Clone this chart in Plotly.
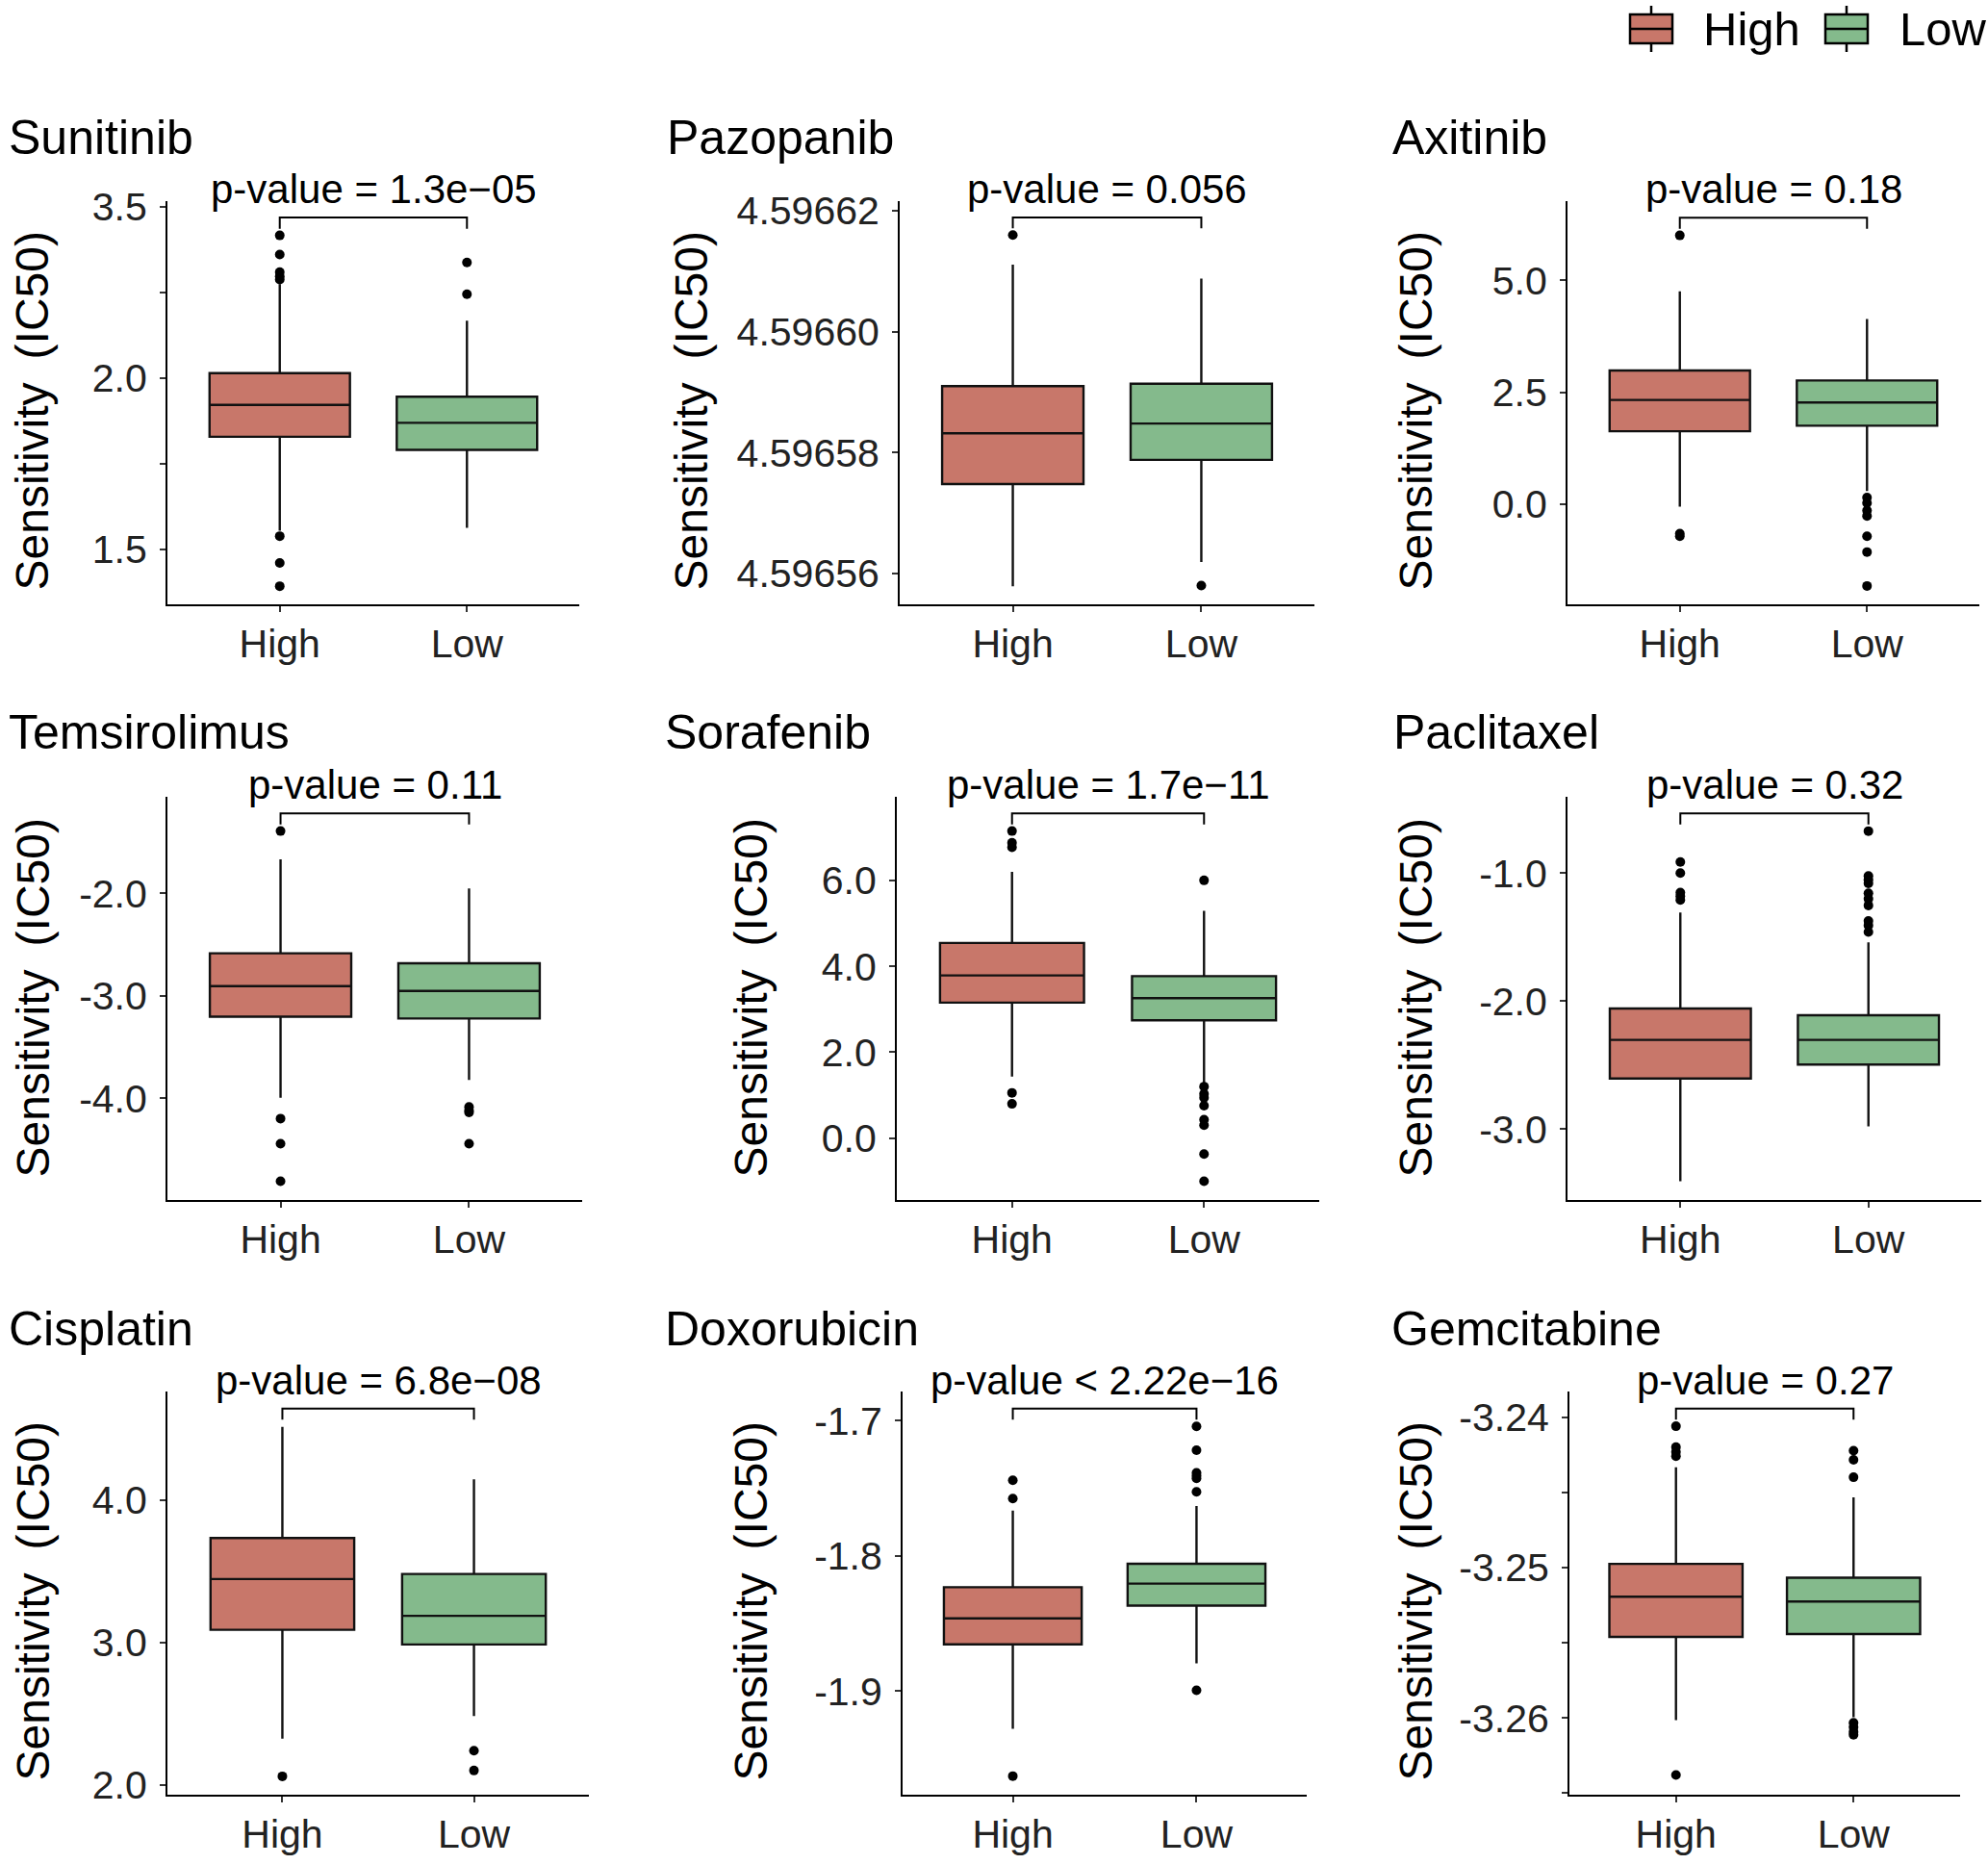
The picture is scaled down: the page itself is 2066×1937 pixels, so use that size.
import plotly.graph_objects as go

# data
DRUGS = ["Sunitinib", "Pazopanib", "Axitinib", "Temsirolimus", "Sorafenib",
         "Paclitaxel", "Cisplatin", "Doxorubicin", "Gemcitabine"]
GROUPS = ["High", "Low"]
P_LABELS = ["p-value = 1.3e\u221205", "p-value = 0.056", "p-value = 0.18",
            "p-value = 0.11", "p-value = 1.7e\u221211", "p-value = 0.32",
            "p-value = 6.8e\u221208", "p-value < 2.22e\u221216", "p-value = 0.27"]

HIGH_Q1 = [1.828, 4.5965748, 1.628, -3.203, 3.155, -2.606, 3.091, -1.8655, -3.25461]
HIGH_MED = [1.921, 4.5965832, 2.327, -2.905, 3.789, -2.304, 3.447, -1.8463, -3.25194]
HIGH_Q3 = [2.014, 4.5965910, 2.985, -2.585, 4.543, -2.059, 3.735, -1.8232, -3.24976]
HIGH_LO = [1.554, 4.5965579, -0.058, -3.993, 1.433, -3.409, 2.327, -1.9280, -3.26015]
HIGH_HI = [2.274, 4.5966111, 4.753, -1.670, 6.197, -1.308, 4.515, -1.7665, -3.24333]
HIGH_OUT = [
    [2.416, 2.360, 2.309, 2.296, 2.287, 1.538, 1.460, 1.392],
    [4.5966160],
    [6.003, -0.658, -0.715],
    [-1.393, -4.197, -4.442, -4.808],
    [7.148, 6.874, 6.771, 1.056, 0.799],
    [-0.914, -1.0, -1.153, -1.181, -1.210],
    [2.062],
    [-1.7440, -1.7575, -1.9630],
    [-3.24061, -3.24199, -3.24231, -3.24260, -3.26379],
]

LOW_Q1 = [1.790, 4.5965788, 1.752, -3.221, 2.744, -2.496, 2.988, -1.8368, -3.25442]
LOW_MED = [1.869, 4.5965848, 2.270, -2.952, 3.258, -2.304, 3.189, -1.8205, -3.25226]
LOW_Q3 = [1.945, 4.5965914, 2.763, -2.682, 3.772, -2.111, 3.483, -1.8058, -3.25068]
LOW_LO = [1.562, 4.5965619, 0.296, -3.820, 1.244, -2.980, 2.486, -1.8796, -3.25995]
LOW_HI = [2.167, 4.5966088, 4.137, -1.953, 5.289, -1.541, 4.147, -1.7630, -3.24534]
LOW_OUT = [
    [2.337, 2.244],
    [4.5965580],
    [0.148, 0.025, -0.140, -0.263, -0.715, -1.069, -1.826],
    [-4.083, -4.118, -4.136, -4.442],
    [6.0, 1.201, 1.030, 0.944, 0.756, 0.430, 0.302, -0.367, -1.001],
    [-0.672, -1.023, -1.052, -1.081, -1.158, -1.201, -1.253, -1.374, -1.409, -1.460],
    [2.242, 2.103],
    [-1.7041, -1.7217, -1.7385, -1.7407, -1.7426, -1.7526, -1.8995],
    [-3.24223, -3.24284, -3.24400, -3.26032, -3.26061, -3.26092, -3.26112],
]

BRACKET_TOP = [2.468, 4.5966189, 6.398, -1.221, 7.56, -0.534, 4.644, -1.6910, -3.23944]
BRACKET_LEG = [2.435, 4.5966171, 6.151, -1.329, 7.30, -0.620, 4.566, -1.6992, -3.24017]

Y_TICKVALS = [
    [1.5, 1.75, 2.0, 2.25, 2.5],
    [4.59656, 4.59658, 4.59660, 4.59662],
    [0.0, 2.5, 5.0],
    [-4.0, -3.0, -2.0],
    [0.0, 2.0, 4.0, 6.0],
    [-3.0, -2.0, -1.0],
    [2.0, 3.0, 4.0],
    [-1.9, -1.8, -1.7],
    [-3.265, -3.26, -3.255, -3.25, -3.245, -3.24],
]
Y_TICKTEXT = [
    ["1.5", "", "2.0", "", "3.5"],
    ["4.59656", "4.59658", "4.59660", "4.59662"],
    ["0.0", "2.5", "5.0"],
    ["-4.0", "-3.0", "-2.0"],
    ["0.0", "2.0", "4.0", "6.0"],
    ["-3.0", "-2.0", "-1.0"],
    ["2.0", "3.0", "4.0"],
    ["-1.9", "-1.8", "-1.7"],
    ["", "-3.26", "", "-3.25", "", "-3.24"],
]
Y_RANGES = [
    [1.339, 2.516], [4.5965549, 4.5966216], [-2.237, 6.768],
    [-4.991, -1.059], [-1.438, 7.945], [-3.555, -0.404],
    [1.933, 4.764], [-1.9768, -1.6783], [-3.2651, -3.2383],
]

# layout, in page pixels
W, H = 2066, 1937
PANEL_PX = [(174, 602, 209, 628), (935, 1366, 209, 628), (1629, 2057, 209, 628),
            (174, 605, 828, 1247), (932, 1371, 828, 1247), (1629, 2059, 828, 1247),
            (174, 612, 1446, 1865), (938, 1358, 1446, 1865), (1631, 2037, 1446, 1865)]
TITLE_X = [7, 691, 1445, 7, 689, 1446, 7, 689, 1444]
TITLE_Y = [143, 143, 143, 761, 761, 761, 1381, 1381, 1381]
YTITLE_X = [33, 718, 1471, 34, 780, 1471, 34, 780, 1471]
YTITLE_SHIFT = [9, 9, 9, 0, 0, 0, 9, 9, 9]

COLORS = {"High": "#C8776A", "Low": "#84BA8C"}
FONT = "Liberation Sans, Arial, sans-serif"
TICK_COLOR = "#222222"


def px(x):
    return x / W


def py(y):
    return 1 - y / H


fig = go.Figure()
annotations = []
shapes = []

for i, drug in enumerate(DRUGS):
    n = "" if i == 0 else str(i + 1)
    xa, ya = "x" + n, "y" + n
    x0, x1, y0, y1 = PANEL_PX[i]

    stats = {
        "High": (HIGH_Q1[i], HIGH_MED[i], HIGH_Q3[i], HIGH_LO[i], HIGH_HI[i], HIGH_OUT[i]),
        "Low": (LOW_Q1[i], LOW_MED[i], LOW_Q3[i], LOW_LO[i], LOW_HI[i], LOW_OUT[i]),
    }
    for g in GROUPS:
        q1, med, q3, lo, hi, out = stats[g]
        fig.add_trace(go.Box(
            x=[g], q1=[q1], median=[med], q3=[q3], lowerfence=[lo], upperfence=[hi],
            fillcolor=COLORS[g], line=dict(color="#111111", width=2.4),
            whiskerwidth=0, width=0.75, boxpoints=False, showlegend=False,
            xaxis=xa, yaxis=ya))
        fig.add_trace(go.Scatter(
            x=[g] * len(out), y=out, mode="markers",
            marker=dict(color="black", size=10), showlegend=False,
            xaxis=xa, yaxis=ya))

    # significance bracket
    fig.add_trace(go.Scatter(
        x=["High", "High", "Low", "Low"],
        y=[BRACKET_LEG[i], BRACKET_TOP[i], BRACKET_TOP[i], BRACKET_LEG[i]],
        mode="lines", line=dict(color="black", width=2), showlegend=False,
        cliponaxis=False, xaxis=xa, yaxis=ya))

    annotations.append(dict(
        x=0.5, y=BRACKET_TOP[i], xref=xa, yref=ya, text=P_LABELS[i],
        showarrow=False, xanchor="center", yanchor="bottom", yshift=4,
        font=dict(family=FONT, size=42, color="black")))
    annotations.append(dict(
        x=px(TITLE_X[i]), y=py(TITLE_Y[i]), xref="paper", yref="paper", text=drug,
        showarrow=False, xanchor="left", yanchor="middle",
        font=dict(family=FONT, size=50, color="black")))
    annotations.append(dict(
        x=px(YTITLE_X[i]), y=py((y0 + y1) / 2 + YTITLE_SHIFT[i]), xref="paper", yref="paper",
        text="Sensitivity\u2002(IC50)", textangle=-90, showarrow=False,
        xanchor="center", yanchor="middle",
        font=dict(family=FONT, size=48, color="black")))

    axis_common = dict(showline=True, linecolor="black", linewidth=2, ticks="outside",
                       ticklen=6, tickwidth=2, tickcolor="#333333", showgrid=False,
                       zeroline=False, automargin=False,
                       tickfont=dict(family=FONT, size=41, color=TICK_COLOR))
    fig.update_layout({
        ("xaxis" + n): dict(domain=[px(x0), px(x1)], anchor=ya, type="category",
                            categoryorder="array", categoryarray=GROUPS,
                            range=[-0.6, 1.6], ticklabelstandoff=-2, **axis_common),
        ("yaxis" + n): dict(domain=[py(y1), py(y0)], anchor=xa, range=Y_RANGES[i],
                            tickvals=Y_TICKVALS[i], ticktext=Y_TICKTEXT[i],
                            ticklabelstandoff=5, **axis_common),
    })

# legend drawn by hand to get the ggplot-style box keys
LEGEND_KEYS = [("High", 1716, 1768), ("Low", 1919, 1972)]
for g, cx, tx in LEGEND_KEYS:
    shapes.append(dict(type="line", xref="paper", yref="paper", x0=px(cx), x1=px(cx),
                       y0=py(6), y1=py(54), line=dict(color="black", width=2.5)))
    shapes.append(dict(type="rect", xref="paper", yref="paper", x0=px(cx - 22), x1=px(cx + 22),
                       y0=py(15), y1=py(45), fillcolor=COLORS[g],
                       line=dict(color="black", width=2.5)))
    shapes.append(dict(type="line", xref="paper", yref="paper", x0=px(cx - 22), x1=px(cx + 22),
                       y0=py(30), y1=py(30), line=dict(color="black", width=2.5)))
    annotations.append(dict(x=px(tx), y=py(30), xref="paper", yref="paper", text=g,
                            showarrow=False, xanchor="left", yanchor="middle",
                            font=dict(family=FONT, size=49, color="black")))

fig.update_layout(
    template="none",
    width=W, height=H, margin=dict(l=0, r=0, t=0, b=0, autoexpand=False),
    paper_bgcolor="white", plot_bgcolor="white",
    annotations=annotations, shapes=shapes, showlegend=False,
)

# drop the browser's default body margin so the figure sits at the page corner
fig.write_html("out.html", config={"displayModeBar": False},
               post_script="document.body.style.margin='0';")
